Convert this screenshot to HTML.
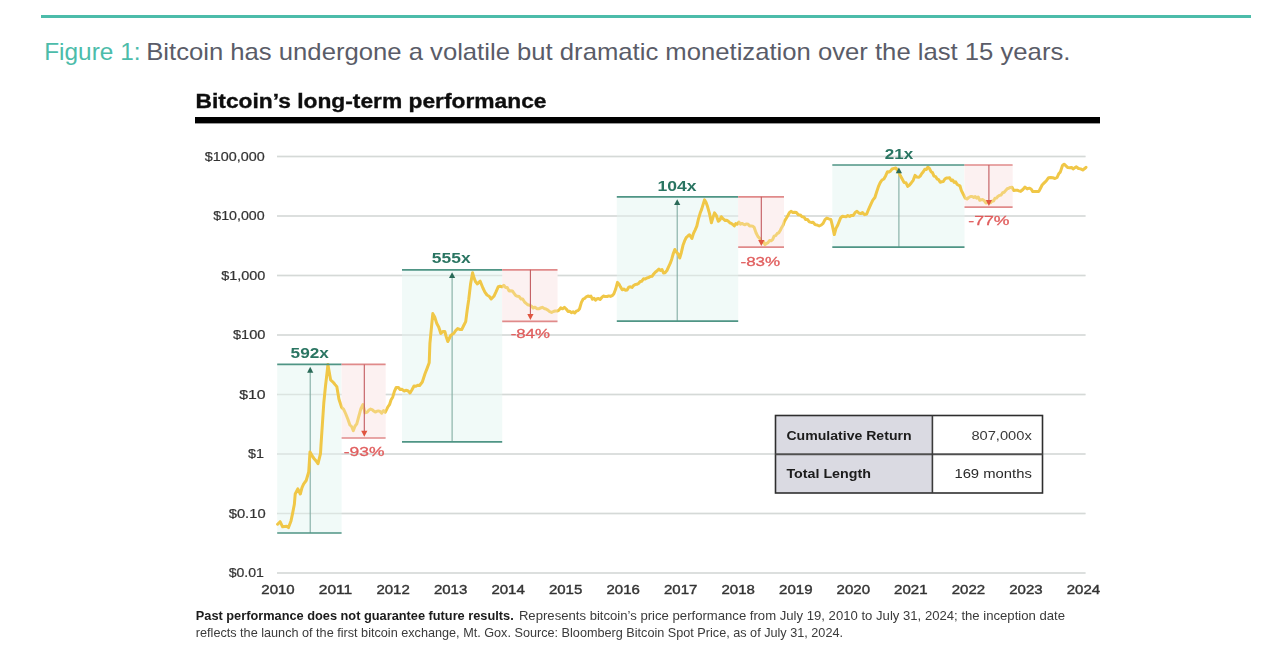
<!DOCTYPE html>
<html><head><meta charset="utf-8"><title>Figure 1</title>
<style>
html,body{margin:0;padding:0;background:#fff;}
body{width:1286px;height:654px;position:relative;overflow:hidden;font-family:"Liberation Sans",sans-serif;}
.rule{position:absolute;left:41px;top:15px;width:1210px;height:3px;background:#4cbcaa;}
svg{position:absolute;left:0;top:0;}
</style></head><body>
<div class="rule"></div>
<svg width="1286" height="654" viewBox="0 0 1286 654" font-family="Liberation Sans, sans-serif">
<text x="44.2" y="60" font-size="24" fill="#4cbcaa" textLength="96.3" lengthAdjust="spacingAndGlyphs">Figure 1:</text>
<text x="146.2" y="60" font-size="24" fill="#5a5c68" textLength="924.2" lengthAdjust="spacingAndGlyphs">Bitcoin has undergone a volatile but dramatic monetization over the last 15 years.</text>
<defs><filter id="bl" x="0" y="0" width="1" height="1"><feGaussianBlur stdDeviation="0.5"/></filter></defs>
<g filter="url(#bl)">
<line x1="277" x2="1085.5" y1="156.5" y2="156.5" stroke="#dadada" stroke-width="1.6"/>
<line x1="277" x2="1085.5" y1="216.0" y2="216.0" stroke="#dadada" stroke-width="1.6"/>
<line x1="277" x2="1085.5" y1="275.5" y2="275.5" stroke="#dadada" stroke-width="1.6"/>
<line x1="277" x2="1085.5" y1="335.0" y2="335.0" stroke="#dadada" stroke-width="1.6"/>
<line x1="277" x2="1085.5" y1="394.5" y2="394.5" stroke="#dadada" stroke-width="1.6"/>
<line x1="277" x2="1085.5" y1="454.0" y2="454.0" stroke="#dadada" stroke-width="1.6"/>
<line x1="277" x2="1085.5" y1="513.5" y2="513.5" stroke="#dadada" stroke-width="1.6"/>
<line x1="277" x2="1085.5" y1="573.0" y2="573.0" stroke="#dadada" stroke-width="1.6"/>
<rect x="277.2" y="364.4" width="64.4" height="168.6" fill="#eff9f7" fill-opacity="0.85"/>
<rect x="402.0" y="269.8" width="100.2" height="172.1" fill="#eff9f7" fill-opacity="0.85"/>
<rect x="616.8" y="196.8" width="121.4" height="124.3" fill="#eff9f7" fill-opacity="0.85"/>
<rect x="832.3" y="165.0" width="132.2" height="82.2" fill="#eff9f7" fill-opacity="0.85"/>
<line x1="277" x2="1085.5" y1="156.5" y2="156.5" stroke="#d2d8d6" stroke-width="1.3" stroke-opacity="0.6"/>
<line x1="277" x2="1085.5" y1="216.0" y2="216.0" stroke="#d2d8d6" stroke-width="1.3" stroke-opacity="0.6"/>
<line x1="277" x2="1085.5" y1="275.5" y2="275.5" stroke="#d2d8d6" stroke-width="1.3" stroke-opacity="0.6"/>
<line x1="277" x2="1085.5" y1="335.0" y2="335.0" stroke="#d2d8d6" stroke-width="1.3" stroke-opacity="0.6"/>
<line x1="277" x2="1085.5" y1="394.5" y2="394.5" stroke="#d2d8d6" stroke-width="1.3" stroke-opacity="0.6"/>
<line x1="277" x2="1085.5" y1="454.0" y2="454.0" stroke="#d2d8d6" stroke-width="1.3" stroke-opacity="0.6"/>
<line x1="277" x2="1085.5" y1="513.5" y2="513.5" stroke="#d2d8d6" stroke-width="1.3" stroke-opacity="0.6"/>
<line x1="277" x2="1085.5" y1="573.0" y2="573.0" stroke="#d2d8d6" stroke-width="1.3" stroke-opacity="0.6"/>
<rect x="341.6" y="364.4" width="44.0" height="73.6" fill="#fdf2f2"/>
<rect x="502.2" y="269.8" width="55.3" height="51.5" fill="#fdf2f2"/>
<rect x="738.2" y="196.8" width="45.8" height="50.4" fill="#fdf2f2"/>
<rect x="964.5" y="165.0" width="48.1" height="42.2" fill="#fdf2f2"/>
<line x1="310.2" x2="310.2" y1="533.0" y2="370.4" stroke="#82ada3" stroke-width="1.1"/>
<line x1="452.1" x2="452.1" y1="441.9" y2="275.8" stroke="#82ada3" stroke-width="1.1"/>
<line x1="677.2" x2="677.2" y1="321.1" y2="202.8" stroke="#82ada3" stroke-width="1.1"/>
<line x1="898.9" x2="898.9" y1="247.2" y2="171.0" stroke="#82ada3" stroke-width="1.1"/>
<path d="M277.6 524.2 L280.1 521.7 L282.6 526.8 L284.6 526.5 L286.5 526.3 L288.5 527.6 L291.0 520.9 L292.7 512.9 L294.4 504.0 L295.2 494.0 L297.8 488.9 L300.3 494.0 L302.0 487.6 L303.7 483.8 L306.2 480.5 L308.7 472.0 L310.0 451.9 L312.9 457.0 L314.6 459.3 L316.3 461.1 L318.0 463.7 L320.5 453.6 L321.0 445.0 L323.8 403.0 L325.5 385.9 L327.2 371.5 L327.9 364.6 L330.6 379.8 L333.4 382.5 L335.1 384.6 L336.8 386.6 L338.9 399.0 L341.6 407.3 L343.7 409.3 L345.8 414.0 L347.9 419.3 L349.9 425.0 L351.6 426.5 L353.3 430.6 L355.1 426.0 L356.8 423.8 L358.9 416.0 L360.9 408.6 L363.0 404.5 L365.0 412.8 L367.0 412.4 L369.0 410.0 L370.6 409.1 L372.1 409.6 L373.7 411.0 L375.3 412.1 L376.9 411.2 L378.4 410.9 L380.0 411.4 L381.7 413.1 L383.5 410.6 L385.2 412.3 L387.9 406.8 L389.5 404.7 L391.1 399.8 L392.7 397.2 L394.4 391.3 L396.2 387.5 L398.2 387.4 L400.3 389.6 L402.1 389.3 L404.0 391.0 L405.8 390.3 L407.9 390.7 L410.0 393.0 L412.0 389.7 L414.0 386.0 L415.9 386.3 L417.7 385.3 L419.6 385.5 L422.3 382.0 L425.0 373.8 L427.1 368.4 L429.2 362.8 L429.9 343.5 L432.8 313.6 L434.8 317.3 L436.8 323.6 L438.8 327.2 L440.8 333.5 L442.8 331.6 L444.8 331.5 L446.3 337.0 L447.8 341.5 L450.7 335.5 L452.2 334.3 L453.7 333.5 L455.7 330.5 L457.7 328.6 L459.7 329.4 L461.7 329.6 L463.7 325.5 L465.7 321.6 L467.2 310.0 L468.7 299.7 L470.6 283.8 L472.6 272.8 L474.1 278.2 L475.6 281.8 L477.4 283.9 L480.2 281.2 L482.9 288.0 L484.9 292.1 L487.0 295.0 L489.1 296.2 L491.2 299.0 L493.9 296.3 L496.1 291.7 L498.3 286.7 L500.1 286.3 L502.0 286.9 L503.8 285.3 L505.5 287.4 L507.2 287.4 L509.0 290.9 L510.7 290.8 L512.4 291.0 L514.1 293.3 L515.8 295.7 L517.5 296.3 L519.2 296.6 L521.0 299.0 L522.7 299.0 L524.4 301.8 L526.1 303.4 L527.8 304.7 L529.6 305.2 L531.3 306.0 L533.1 308.0 L535.0 307.2 L536.8 308.7 L538.6 308.8 L540.5 308.0 L542.3 307.3 L544.2 308.5 L546.0 309.0 L547.9 310.1 L549.7 311.6 L551.6 312.4 L553.4 311.5 L555.2 311.0 L557.1 311.1 L558.9 310.1 L560.7 307.8 L562.6 308.8 L564.4 307.3 L566.2 309.0 L568.0 311.4 L569.8 311.2 L571.4 312.8 L573.1 311.8 L574.7 313.0 L576.3 311.2 L578.0 310.6 L579.6 308.7 L581.4 302.4 L583.2 299.0 L584.8 298.3 L586.3 296.8 L587.9 296.0 L589.4 296.5 L590.9 296.1 L592.5 299.2 L594.0 298.2 L595.5 300.2 L597.0 298.8 L598.5 298.6 L600.1 299.4 L601.6 297.7 L603.4 296.0 L605.2 296.6 L607.1 296.5 L608.9 295.9 L610.5 296.4 L612.2 295.6 L613.8 294.0 L615.6 289.3 L617.5 282.4 L619.1 284.2 L620.6 287.1 L622.2 289.8 L623.8 289.0 L625.5 290.2 L627.1 290.0 L628.7 287.2 L630.4 286.8 L632.0 287.4 L633.6 285.6 L635.3 284.5 L636.9 284.3 L638.5 283.5 L640.2 281.5 L641.8 281.2 L643.5 278.8 L645.2 279.0 L646.9 277.9 L648.6 277.6 L650.3 276.4 L652.0 276.3 L653.7 274.0 L655.5 272.0 L657.2 270.8 L658.9 269.0 L660.4 270.5 L662.0 269.5 L663.5 273.0 L665.0 272.7 L666.9 270.5 L668.7 266.6 L670.2 263.4 L671.8 258.9 L673.3 253.5 L674.8 249.5 L676.4 252.0 L678.1 254.0 L679.7 258.0 L681.3 252.7 L683.0 245.3 L684.6 240.9 L686.2 237.6 L687.9 236.0 L689.5 234.8 L691.9 238.5 L693.5 233.4 L695.2 229.8 L696.8 226.2 L698.4 219.2 L700.1 213.3 L701.7 209.1 L704.5 199.9 L706.0 202.3 L707.6 206.8 L709.5 213.6 L711.4 222.8 L713.0 217.4 L714.5 212.9 L716.4 215.7 L718.3 221.3 L719.8 220.1 L721.3 216.7 L723.2 218.9 L725.2 220.5 L726.7 220.2 L728.3 221.3 L729.8 222.8 L731.3 223.4 L732.8 224.5 L734.3 225.9 L735.8 223.5 L737.4 224.3 L738.9 222.0 L740.4 224.2 L742.0 223.4 L743.5 224.3 L745.0 224.7 L746.5 223.9 L748.1 224.3 L749.6 225.9 L751.1 225.9 L752.7 226.2 L754.2 227.4 L756.1 233.0 L758.0 236.6 L760.0 238.6 L761.9 242.7 L763.4 241.5 L765.0 244.6 L766.5 243.5 L768.0 242.6 L769.5 240.5 L771.1 240.7 L772.6 239.6 L774.1 236.1 L775.7 235.6 L777.2 233.5 L778.7 232.9 L780.2 230.5 L781.7 227.4 L783.2 224.9 L784.8 220.6 L786.3 218.2 L787.9 215.5 L789.4 212.6 L791.0 211.3 L792.8 212.5 L794.7 212.3 L796.5 212.6 L798.3 214.8 L800.2 214.9 L802.0 216.8 L803.8 216.9 L805.7 219.5 L807.5 219.5 L809.3 221.9 L811.2 222.4 L813.0 222.3 L815.0 224.6 L817.1 225.0 L819.2 226.0 L821.3 225.0 L823.1 223.4 L825.0 219.6 L826.8 218.1 L828.8 218.9 L830.9 219.5 L832.6 226.6 L834.3 234.6 L836.0 228.4 L837.8 225.0 L840.5 218.1 L842.3 216.3 L844.2 216.6 L846.0 216.8 L847.8 215.6 L849.7 216.4 L851.5 215.4 L853.3 215.4 L855.2 212.5 L857.0 211.3 L858.8 213.0 L860.7 213.6 L862.5 212.6 L864.6 214.7 L866.7 214.0 L868.8 208.8 L870.8 204.4 L872.8 200.1 L874.9 197.5 L876.7 191.7 L878.4 186.7 L880.2 182.7 L882.0 180.0 L883.9 179.0 L885.7 175.7 L887.5 171.7 L889.0 172.0 L890.6 170.9 L892.1 169.0 L894.0 168.4 L895.8 168.0 L898.5 171.7 L900.4 175.8 L902.2 179.0 L904.0 182.4 L905.9 182.7 L907.7 186.4 L909.5 185.0 L911.4 182.7 L913.2 180.3 L915.0 175.4 L916.9 177.1 L918.7 177.2 L920.2 176.1 L921.8 173.5 L923.3 171.7 L924.8 169.2 L926.4 169.5 L927.9 167.1 L929.4 168.4 L931.0 171.7 L932.5 172.6 L934.0 176.1 L935.6 176.6 L937.1 179.0 L938.6 179.6 L940.2 182.2 L941.7 181.8 L943.3 181.5 L944.9 179.0 L946.5 177.9 L948.1 178.1 L949.6 177.7 L951.2 180.6 L952.7 180.0 L954.2 182.4 L955.7 181.9 L957.2 184.5 L959.9 185.8 L961.4 190.6 L962.9 193.5 L965.2 198.1 L967.0 199.0 L968.8 197.5 L970.6 196.5 L972.1 196.5 L973.7 197.4 L975.2 196.6 L976.7 198.1 L978.2 197.0 L979.8 200.3 L981.3 199.7 L982.8 199.6 L984.3 200.7 L985.9 203.0 L987.4 202.7 L988.9 202.0 L990.5 202.7 L992.0 201.1 L993.5 201.1 L995.0 198.2 L996.5 198.1 L998.0 196.3 L999.6 195.4 L1001.1 195.0 L1002.6 192.7 L1004.2 192.2 L1005.7 190.4 L1007.2 188.7 L1008.8 188.2 L1010.3 187.4 L1012.0 187.3 L1013.7 190.6 L1015.4 190.3 L1017.2 190.2 L1018.9 190.9 L1020.7 191.4 L1022.9 189.5 L1025.0 187.1 L1027.2 188.9 L1029.3 188.2 L1031.1 189.0 L1032.8 191.6 L1034.6 191.4 L1036.8 191.4 L1038.9 191.4 L1040.5 188.3 L1042.1 185.0 L1044.2 182.9 L1046.4 180.7 L1048.6 177.7 L1050.7 177.5 L1052.8 177.8 L1055.0 178.5 L1057.1 177.5 L1058.7 173.8 L1060.3 172.1 L1062.4 165.7 L1064.1 164.2 L1065.7 165.7 L1067.8 167.6 L1069.9 167.8 L1071.5 167.4 L1073.1 168.9 L1074.8 167.8 L1076.4 166.8 L1078.5 168.5 L1080.6 168.9 L1082.8 170.0 L1084.4 168.8 L1086.0 167.3" fill="none" stroke="#f0c746" stroke-width="3" stroke-linejoin="round" stroke-linecap="round"/>
<rect x="341.6" y="364.4" width="44.0" height="73.6" fill="#fdeeee" fill-opacity="0.3"/>
<rect x="502.2" y="269.8" width="55.3" height="51.5" fill="#fdeeee" fill-opacity="0.3"/>
<rect x="738.2" y="196.8" width="45.8" height="50.4" fill="#fdeeee" fill-opacity="0.3"/>
<rect x="964.5" y="165.0" width="48.1" height="42.2" fill="#fdeeee" fill-opacity="0.3"/>
<line x1="277.2" x2="341.6" y1="364.4" y2="364.4" stroke="#4f9585" stroke-width="1.7"/>
<line x1="277.2" x2="341.6" y1="533.0" y2="533.0" stroke="#4f9585" stroke-width="1.7"/>
<path d="M307.09999999999997 372.7 L313.3 372.7 L310.2 366.79999999999995 Z" fill="#2b6b59"/>
<line x1="341.6" x2="385.6" y1="364.4" y2="364.4" stroke="#e08a8a" stroke-width="1.7"/>
<line x1="341.6" x2="385.6" y1="438.0" y2="438.0" stroke="#e08a8a" stroke-width="1.7"/>
<line x1="364.3" x2="364.3" y1="364.4" y2="432.0" stroke="#c25a5e" stroke-width="1.1"/>
<path d="M361.2 430.7 L367.40000000000003 430.7 L364.3 436.8 Z" fill="#e0553f"/>
<text x="290.6" y="357.6" font-size="14.5" font-weight="bold" fill="#2a7562" textLength="38.3" lengthAdjust="spacingAndGlyphs">592x</text>
<text x="343.8" y="456.4" font-size="13" font-weight="normal" fill="#e05d5d" stroke="#e05d5d" stroke-width="0.3" textLength="40.7" lengthAdjust="spacingAndGlyphs">-93%</text>
<line x1="402.0" x2="502.2" y1="269.8" y2="269.8" stroke="#4f9585" stroke-width="1.7"/>
<line x1="402.0" x2="502.2" y1="441.9" y2="441.9" stroke="#4f9585" stroke-width="1.7"/>
<path d="M449.0 278.1 L455.20000000000005 278.1 L452.1 272.2 Z" fill="#2b6b59"/>
<line x1="502.2" x2="557.5" y1="269.8" y2="269.8" stroke="#e08a8a" stroke-width="1.7"/>
<line x1="502.2" x2="557.5" y1="321.3" y2="321.3" stroke="#e08a8a" stroke-width="1.7"/>
<line x1="530.4" x2="530.4" y1="269.8" y2="315.3" stroke="#c25a5e" stroke-width="1.1"/>
<path d="M527.3 314.0 L533.5 314.0 L530.4 320.1 Z" fill="#e0553f"/>
<text x="431.8" y="262.9" font-size="14.5" font-weight="bold" fill="#2a7562" textLength="38.8" lengthAdjust="spacingAndGlyphs">555x</text>
<text x="510.7" y="338.0" font-size="13" font-weight="normal" fill="#e05d5d" stroke="#e05d5d" stroke-width="0.3" textLength="39.2" lengthAdjust="spacingAndGlyphs">-84%</text>
<line x1="616.8" x2="738.2" y1="196.8" y2="196.8" stroke="#4f9585" stroke-width="1.7"/>
<line x1="616.8" x2="738.2" y1="321.1" y2="321.1" stroke="#4f9585" stroke-width="1.7"/>
<path d="M674.1 205.10000000000002 L680.3000000000001 205.10000000000002 L677.2 199.20000000000002 Z" fill="#2b6b59"/>
<line x1="738.2" x2="784.0" y1="196.8" y2="196.8" stroke="#e08a8a" stroke-width="1.7"/>
<line x1="738.2" x2="784.0" y1="247.2" y2="247.2" stroke="#e08a8a" stroke-width="1.7"/>
<line x1="761.3" x2="761.3" y1="196.8" y2="241.2" stroke="#c25a5e" stroke-width="1.1"/>
<path d="M758.1999999999999 239.89999999999998 L764.4 239.89999999999998 L761.3 246.0 Z" fill="#e0553f"/>
<text x="657.6" y="191.2" font-size="14.5" font-weight="bold" fill="#2a7562" textLength="39.0" lengthAdjust="spacingAndGlyphs">104x</text>
<text x="740.5" y="266.4" font-size="13" font-weight="normal" fill="#e05d5d" stroke="#e05d5d" stroke-width="0.3" textLength="39.7" lengthAdjust="spacingAndGlyphs">-83%</text>
<line x1="832.3" x2="964.5" y1="165.0" y2="165.0" stroke="#4f9585" stroke-width="1.7"/>
<line x1="832.3" x2="964.5" y1="247.2" y2="247.2" stroke="#4f9585" stroke-width="1.7"/>
<path d="M895.8 173.3 L902.0 173.3 L898.9 167.4 Z" fill="#2b6b59"/>
<line x1="964.5" x2="1012.6" y1="165.0" y2="165.0" stroke="#e08a8a" stroke-width="1.7"/>
<line x1="964.5" x2="1012.6" y1="207.2" y2="207.2" stroke="#e08a8a" stroke-width="1.7"/>
<line x1="988.9" x2="988.9" y1="165.0" y2="201.2" stroke="#c25a5e" stroke-width="1.1"/>
<path d="M985.8 199.89999999999998 L992.0 199.89999999999998 L988.9 206.0 Z" fill="#e0553f"/>
<text x="884.8" y="158.9" font-size="14.5" font-weight="bold" fill="#2a7562" textLength="28.4" lengthAdjust="spacingAndGlyphs">21x</text>
<text x="968.3" y="224.8" font-size="13" font-weight="normal" fill="#e05d5d" stroke="#e05d5d" stroke-width="0.3" textLength="41.2" lengthAdjust="spacingAndGlyphs">-77%</text>
<text x="204.8" y="160.8" font-size="12" font-weight="normal" fill="#333" stroke="#333" stroke-width="0.2" textLength="59.9" lengthAdjust="spacingAndGlyphs">$100,000</text>
<text x="213.3" y="220.3" font-size="12" font-weight="normal" fill="#333" stroke="#333" stroke-width="0.2" textLength="51.4" lengthAdjust="spacingAndGlyphs">$10,000</text>
<text x="221.2" y="279.8" font-size="12" font-weight="normal" fill="#333" stroke="#333" stroke-width="0.2" textLength="44.2" lengthAdjust="spacingAndGlyphs">$1,000</text>
<text x="232.9" y="339.3" font-size="12" font-weight="normal" fill="#333" stroke="#333" stroke-width="0.2" textLength="32.5" lengthAdjust="spacingAndGlyphs">$100</text>
<text x="239.2" y="398.8" font-size="12" font-weight="normal" fill="#333" stroke="#333" stroke-width="0.2" textLength="26.4" lengthAdjust="spacingAndGlyphs">$10</text>
<text x="248.0" y="458.3" font-size="12" font-weight="normal" fill="#333" stroke="#333" stroke-width="0.2" textLength="15.9" lengthAdjust="spacingAndGlyphs">$1</text>
<text x="228.7" y="517.8" font-size="12" font-weight="normal" fill="#333" stroke="#333" stroke-width="0.2" textLength="36.9" lengthAdjust="spacingAndGlyphs">$0.10</text>
<text x="228.7" y="577.3" font-size="12" font-weight="normal" fill="#333" stroke="#333" stroke-width="0.2" textLength="35.2" lengthAdjust="spacingAndGlyphs">$0.01</text>
<text x="261.3" y="594.2" font-size="13.5" font-weight="normal" fill="#333" stroke="#333" stroke-width="0.4" textLength="33.4" lengthAdjust="spacingAndGlyphs">2010</text>
<text x="318.8" y="594.2" font-size="13.5" font-weight="normal" fill="#333" stroke="#333" stroke-width="0.4" textLength="33.4" lengthAdjust="spacingAndGlyphs">2011</text>
<text x="376.4" y="594.2" font-size="13.5" font-weight="normal" fill="#333" stroke="#333" stroke-width="0.4" textLength="33.4" lengthAdjust="spacingAndGlyphs">2012</text>
<text x="433.9" y="594.2" font-size="13.5" font-weight="normal" fill="#333" stroke="#333" stroke-width="0.4" textLength="33.4" lengthAdjust="spacingAndGlyphs">2013</text>
<text x="491.4" y="594.2" font-size="13.5" font-weight="normal" fill="#333" stroke="#333" stroke-width="0.4" textLength="33.4" lengthAdjust="spacingAndGlyphs">2014</text>
<text x="548.9" y="594.2" font-size="13.5" font-weight="normal" fill="#333" stroke="#333" stroke-width="0.4" textLength="33.4" lengthAdjust="spacingAndGlyphs">2015</text>
<text x="606.5" y="594.2" font-size="13.5" font-weight="normal" fill="#333" stroke="#333" stroke-width="0.4" textLength="33.4" lengthAdjust="spacingAndGlyphs">2016</text>
<text x="664.0" y="594.2" font-size="13.5" font-weight="normal" fill="#333" stroke="#333" stroke-width="0.4" textLength="33.4" lengthAdjust="spacingAndGlyphs">2017</text>
<text x="721.5" y="594.2" font-size="13.5" font-weight="normal" fill="#333" stroke="#333" stroke-width="0.4" textLength="33.4" lengthAdjust="spacingAndGlyphs">2018</text>
<text x="779.1" y="594.2" font-size="13.5" font-weight="normal" fill="#333" stroke="#333" stroke-width="0.4" textLength="33.4" lengthAdjust="spacingAndGlyphs">2019</text>
<text x="836.6" y="594.2" font-size="13.5" font-weight="normal" fill="#333" stroke="#333" stroke-width="0.4" textLength="33.4" lengthAdjust="spacingAndGlyphs">2020</text>
<text x="894.1" y="594.2" font-size="13.5" font-weight="normal" fill="#333" stroke="#333" stroke-width="0.4" textLength="33.4" lengthAdjust="spacingAndGlyphs">2021</text>
<text x="951.7" y="594.2" font-size="13.5" font-weight="normal" fill="#333" stroke="#333" stroke-width="0.4" textLength="33.4" lengthAdjust="spacingAndGlyphs">2022</text>
<text x="1009.2" y="594.2" font-size="13.5" font-weight="normal" fill="#333" stroke="#333" stroke-width="0.4" textLength="33.4" lengthAdjust="spacingAndGlyphs">2023</text>
<text x="1066.7" y="594.2" font-size="13.5" font-weight="normal" fill="#333" stroke="#333" stroke-width="0.4" textLength="33.4" lengthAdjust="spacingAndGlyphs">2024</text>
<text x="195.6" y="108.3" font-size="20" font-weight="bold" fill="#111" stroke="#111" stroke-width="0.35" textLength="350.9" lengthAdjust="spacingAndGlyphs">Bitcoin’s long-term performance</text>
<rect x="195" y="117" width="905" height="6.4" fill="#050505"/>
<rect x="775.5" y="415.5" width="157" height="77.5" fill="#dadae2"/>
<rect x="932.5" y="415.5" width="110" height="77.5" fill="#fff"/>
<rect x="775.5" y="415.5" width="267" height="77.5" fill="none" stroke="#2f2f2f" stroke-width="1.6"/>
<line x1="775.5" x2="1042.5" y1="454.2" y2="454.2" stroke="#505050" stroke-width="2"/>
<line x1="932.4" x2="932.4" y1="415.5" y2="493" stroke="#3a3a3a" stroke-width="1.6"/>
<text x="786.4" y="440.0" font-size="13.5" font-weight="bold" fill="#1a1a1a" textLength="125.2" lengthAdjust="spacingAndGlyphs">Cumulative Return</text>
<text x="786.4" y="478.3" font-size="13.5" font-weight="bold" fill="#1a1a1a" textLength="84.6" lengthAdjust="spacingAndGlyphs">Total Length</text>
<text x="971.4" y="440.0" font-size="13.5" font-weight="normal" fill="#3a3a3a" textLength="60.4" lengthAdjust="spacingAndGlyphs">807,000x</text>
<text x="954.4" y="478.3" font-size="13.5" font-weight="normal" fill="#2a2a2a" textLength="77.4" lengthAdjust="spacingAndGlyphs">169 months</text>
<text x="195.8" y="620.2" font-size="13.2" font-weight="bold" fill="#1a1a1a" textLength="317.9" lengthAdjust="spacingAndGlyphs">Past performance does not guarantee future results.</text>
<text x="518.9" y="620.2" font-size="13.2" font-weight="normal" fill="#3a3a3a" textLength="546.1" lengthAdjust="spacingAndGlyphs">Represents bitcoin’s price performance from July 19, 2010 to July 31, 2024; the inception date</text>
<text x="195.8" y="637.2" font-size="13.2" font-weight="normal" fill="#3a3a3a" textLength="647.2" lengthAdjust="spacingAndGlyphs">reflects the launch of the first bitcoin exchange, Mt. Gox. Source: Bloomberg Bitcoin Spot Price, as of July 31, 2024.</text>
</g>
</svg>
</body></html>
